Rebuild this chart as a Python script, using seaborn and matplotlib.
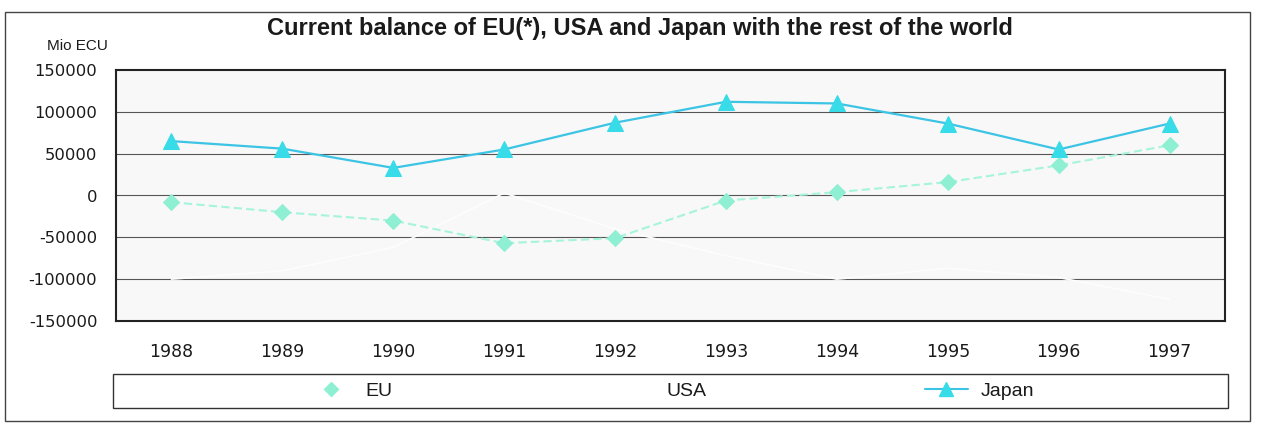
import matplotlib
matplotlib.use("Agg")
import matplotlib.pyplot as plt
import seaborn as sns
import pandas as pd
from matplotlib.patches import Rectangle
from matplotlib.lines import Line2D

years = ["1988", "1989", "1990", "1991", "1992", "1993", "1994", "1995", "1996", "1997"]
eu = [-8000, -20000, -30000, -57000, -51000, -6000, 4000, 16000, 36000, 60000]
usa = [-100000, -90000, -62000, 3000, -40000, -72000, -100000, -87000, -98000, -124000]
japan = [65000, 56000, 33000, 55000, 87000, 112000, 110000, 86000, 55000, 86000]
yticks = [150000, 100000, 50000, 0, -50000, -100000, -150000]

sns.set_theme(style="white")
plt.rcParams['font.family'] = ['Liberation Sans', 'DejaVu Sans']
plt.rcParams['text.color'] = '#1a1a1a'

fig = plt.figure(figsize=(12.62, 4.23), dpi=100)
fig.patch.set_facecolor("white")
fig.patches.append(Rectangle((5/1262, 1-421/423), 1245/1262, 409/423, transform=fig.transFigure,
                             fill=False, edgecolor="#444444", linewidth=1.0))

ax = fig.add_axes([116/1262, 1-321/423, 1109/1262, 251/423])
ax.set_facecolor("#f8f8f8")

x = list(range(len(years)))
df = pd.DataFrame({"x": x, "EU": eu, "USA": usa, "Japan": japan})

sns.lineplot(data=df, x="x", y="USA", ax=ax, color="#fdfdfd", linewidth=1.2, zorder=3)
sns.lineplot(data=df, x="x", y="EU", ax=ax, color="#a6f4dc", linewidth=1.5, linestyle=(0, (4, 2)),
             marker="D", markersize=8, markeredgecolor="#8eefd2", markerfacecolor="#8eefd2", zorder=4)
sns.lineplot(data=df, x="x", y="Japan", ax=ax, color="#3cc4e4", linewidth=1.6,
             marker="^", markersize=11, markeredgecolor="#38dbe8", markerfacecolor="#38dbe8", zorder=5)

ax.set_xlim(-0.5, len(years) - 0.5)
ax.set_ylim(-150000, 150000)
ax.set_yticks(yticks)
ax.set_yticklabels([str(v) for v in yticks], fontsize=11.8, family="DejaVu Sans", color="#1a1a1a")
ax.set_xticks(x)
ax.set_xticklabels(years, fontsize=12.5, family="DejaVu Sans", color="#1a1a1a")
ax.tick_params(axis="y", length=0, pad=13.5)
ax.tick_params(axis="x", length=0, pad=16)
for v in yticks[1:-1]:
    ax.axhline(v, color="#555555", linewidth=0.8, zorder=1)
for s in ax.spines.values():
    s.set_color("#222222")
    s.set_linewidth(1.5)
ax.set_xlabel("")
ax.set_ylabel("")

fig.text(640/1262, 1-28/423, "Current balance of EU(*), USA and Japan with the rest of the world",
         ha="center", va="center", fontsize=17, fontweight="bold")
fig.text(47/1262, 1-46/423, "Mio ECU", ha="left", va="center", fontsize=11)

fig.patches.append(Rectangle((113/1262, 1-408/423), 1115/1262, 34/423, transform=fig.transFigure,
                             fill=False, edgecolor="#333333", linewidth=1.0))
handles = [
    Line2D([], [], color="white", marker="D", markersize=7, markerfacecolor="#8eefd2",
           markeredgecolor="#8eefd2", linewidth=1.5),
    Line2D([], [], color="white", linewidth=1.5),
    Line2D([], [], color="#3cc4e4", marker="^", markersize=10, markerfacecolor="#38dbe8",
           markeredgecolor="#38dbe8", linewidth=1.5),
]
leg = fig.legend(handles, ["EU", "USA", "Japan"], ncol=3, loc="center",
                 bbox_to_anchor=(672/1262, 1-391/423), frameon=False, fontsize=14,
                 handlelength=2.2, handletextpad=0.7, columnspacing=11.2)

fig.savefig("out.png", dpi=100, facecolor="white")
